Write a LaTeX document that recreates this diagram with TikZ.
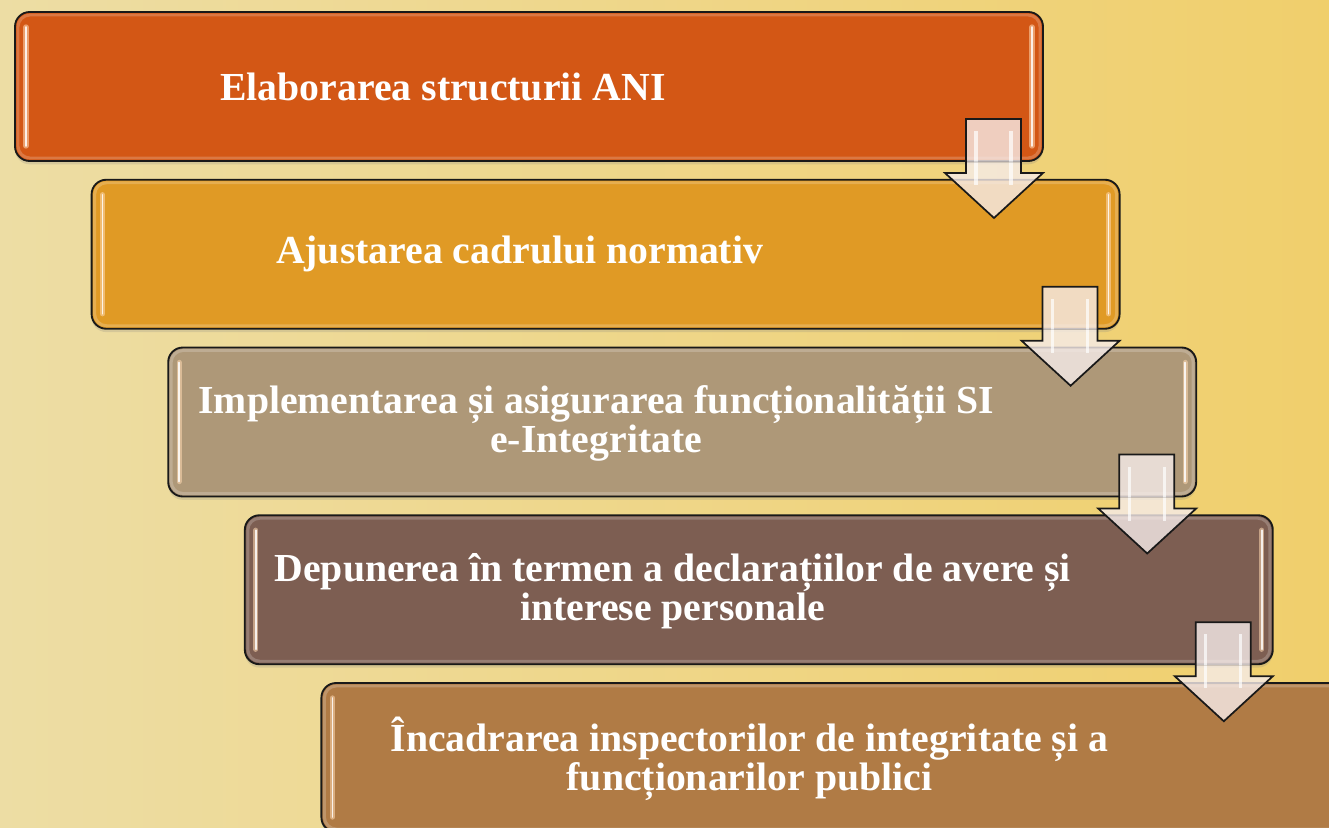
\documentclass[tikz,border=0pt]{standalone}
\usepackage{fontspec}
\setmainfont{Liberation Serif}
\usetikzlibrary{calc,shadows}
\definecolor{bgL}{RGB}{237,221,164}
\definecolor{bgR}{RGB}{240,207,108}
\definecolor{cA}{RGB}{211,87,21}
\definecolor{cB}{RGB}{224,154,37}
\definecolor{cC}{RGB}{174,152,120}
\definecolor{cD}{RGB}{125,94,82}
\definecolor{cE}{RGB}{176,123,69}
\definecolor{arrowfill}{RGB}{246,236,234}
\begin{document}
\begin{tikzpicture}[x=0.75pt,y=-0.75pt,
  stepbox/.style={rectangle, rounded corners=11pt, minimum width=771pt,
    minimum height=111.75pt, inner sep=0pt, outer sep=0pt,
    draw=black!90, line width=1.4pt, fill=#1,
    drop shadow={shadow xshift=0pt, shadow yshift=-2.5pt, opacity=.22}},
  steptext/.style={text=white, font=\fontsize{29.8}{29.2}\selectfont\bfseries,
    align=center, inner sep=0pt},
  shine/.style={line cap=round},
  blockarrow/.style={draw=black!90, line width=1.3pt, fill=arrowfill, fill opacity=.8, line join=miter},
]
\clip (0,0) rectangle (1329,828);
\fill[left color=bgL, right color=bgR] (0,0) rectangle (1329,828);

\foreach \i/\c in {1/cA,2/cB,3/cC,4/cD,5/cE}{
  \node[stepbox=\c] (b\i) at ({529+76.6*(\i-1)},{86.5+167.75*(\i-1)}) {};
  \draw[white, opacity=.2, line width=2.2pt, rounded corners=9pt]
    ($(b\i.north west)+(3,3)$) rectangle ($(b\i.south east)+(-3,-3)$);
  \draw[shine, line width=4pt, color=orange!30!white, opacity=.55] ($(b\i.north west)+(11,15)$) -- ($(b\i.south west)+(11,-15)$);
  \draw[shine, line width=1.3pt, white, opacity=.85] ($(b\i.north west)+(11,15)$) -- ($(b\i.south west)+(11,-15)$);
  \draw[shine, line width=4pt, color=orange!30!white, opacity=.55] ($(b\i.north east)+(-11,15)$) -- ($(b\i.south east)+(-11,-15)$);
  \draw[shine, line width=1.3pt, white, opacity=.85] ($(b\i.north east)+(-11,15)$) -- ($(b\i.south east)+(-11,-15)$);
}

\node[steptext] (t1) at ($(b1.center)+(-86,0)$) {Elaborarea structurii ANI};
\node[steptext] (t2) at ($(b2.center)+(-86,0)$) {Ajustarea cadrului normativ};
\node[steptext] (t3) at ($(b3.center)+(-86,1)$) {Implementarea și asigurarea funcționalității SI\\e-Integritate};
\node[steptext] (t4) at ($(b4.center)+(-86,1)$) {Depunerea în termen a declarațiilor de avere și\\interese personale};
\node[steptext] (t5) at ($(b5.center)+(-86,1)$) {Încadrarea inspectorilor de integritate și a\\funcționarilor publici};

\foreach \i in {1,2,3,4}{
  \coordinate (a\i) at (b\i.south east);
  \draw[blockarrow] ($(a\i)+(-77,-42)$) -- ($(a\i)+(-22,-42)$) -- ($(a\i)+(-22,12)$)
    -- ($(a\i)+(0,12)$) -- ($(a\i)+(-49,57)$) -- ($(a\i)+(-98,12)$)
    -- ($(a\i)+(-77,12)$) -- cycle;
  \draw[white, opacity=.7, line width=2.5pt] ($(a\i)+(-67,-30)$) -- ($(a\i)+(-67,24)$);
  \draw[white, opacity=.7, line width=2.5pt] ($(a\i)+(-32,-30)$) -- ($(a\i)+(-32,24)$);
  \draw[black, opacity=.12, line width=1pt] ($(a\i)+(-77,1)$) -- ($(a\i)+(-22,1)$);
}
\end{tikzpicture}
\end{document}
